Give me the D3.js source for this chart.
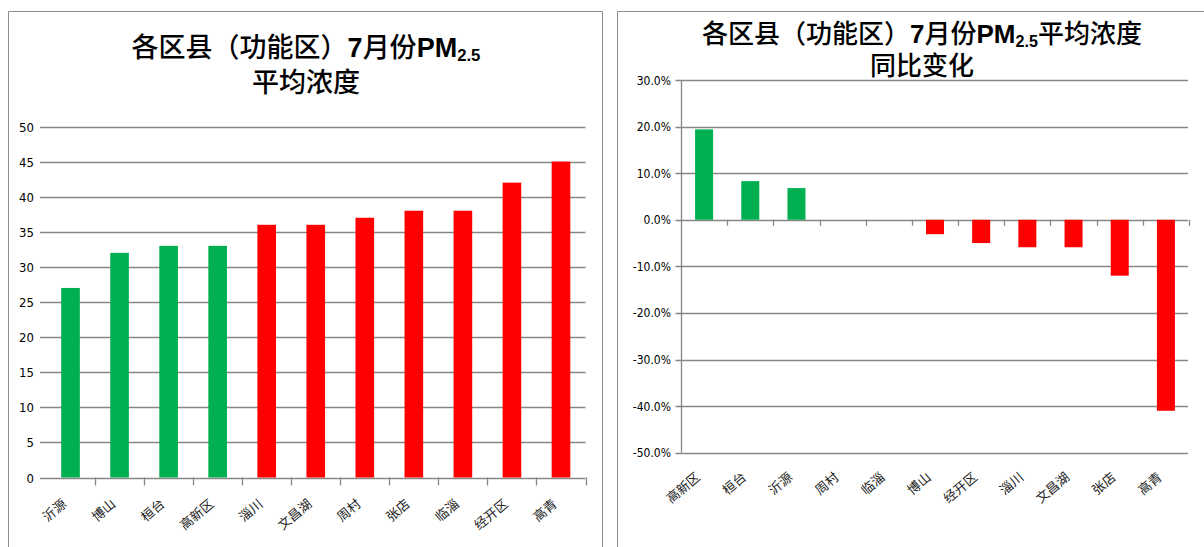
<!DOCTYPE html>
<html>
<head>
<meta charset="utf-8">
<script src="https://cdn.jsdelivr.net/npm/d3@7/dist/d3.min.js"></script>
<style>
  html, body { margin: 0; padding: 0; background: #fff; }
  svg { display: block; }
</style>
</head>
<body>
<svg id="chart" width="1204" height="547"></svg>
<script>
// ---- Data ----
const leftCategories = ["沂源", "博山", "桓台", "高新区", "淄川", "文昌湖", "周村", "张店", "临淄", "经开区", "高青"];
const leftValues = [27, 32, 33, 33, 36, 36, 37, 38, 38, 42, 45];
const leftColors = ["green", "green", "green", "green", "red", "red", "red", "red", "red", "red", "red"];
const leftTicks = [0, 5, 10, 15, 20, 25, 30, 35, 40, 45, 50];

const rightCategories = ["高新区", "桓台", "沂源", "周村", "临淄", "博山", "经开区", "淄川", "文昌湖", "张店", "高青"];
const rightValues = [19.4, 8.3, 6.8, 0, 0, -3.1, -5.0, -5.9, -5.9, -12.0, -41.0]; // percent
const rightTicks = [30, 20, 10, 0, -10, -20, -30, -40, -50];

const palette = { green: "#00B050", red: "#FF0000" };
const gridColor = "#868686";
const cjk = "'Noto Sans CJK SC', 'Noto Sans', sans-serif";
const latin = "'Liberation Sans', Arial, sans-serif";

const svg = d3.select("#chart");

// ---- Panel borders ----
svg.append("path")
  .attr("d", "M8.5,560 V11.5 H602.5 V560")
  .attr("fill", "none").attr("stroke", "#8c8c8c").attr("stroke-width", 1);
svg.append("path")
  .attr("d", "M617.5,560 V11.5 H1210")
  .attr("fill", "none").attr("stroke", "#8c8c8c").attr("stroke-width", 1);

// ---- Title helper ----
function title(x, y, size, parts) {
  const t = svg.append("text").attr("x", x).attr("y", y)
    .attr("text-anchor", "middle").attr("font-size", size).attr("fill", "#000");
  parts.forEach(p => {
    const s = t.append("tspan").text(p.t)
      .attr("font-family", p.latin ? latin : cjk)
      .attr("font-weight", p.latin ? "bold" : 500);
    if (p.sub) s.attr("font-size", size * 0.62).attr("dy", size * 0.16);
    if (p.unsub) s.attr("dy", -size * 0.16);
  });
  return t;
}

// ================= LEFT CHART =================
const lx = d3.scaleBand().domain(leftCategories).range([46, 585.5]).paddingInner(0.62).paddingOuter(0.31);
const ly = d3.scaleLinear().domain([0, 50]).range([477.5, 126.5]);

title(306, 57, 27, [
  { t: "各区县（功能区）" }, { t: "7", latin: true }, { t: "月份" },
  { t: "PM", latin: true }, { t: "2.5", latin: true, sub: true }
]);
title(306, 92, 27, [{ t: "平均浓度" }]);

const lg = svg.append("g");
// gridlines
lg.selectAll("line.grid").data(leftTicks).join("line")
  .attr("x1", 40).attr("x2", 585.5)
  .attr("y1", d => Math.round(ly(d)) + 0.5).attr("y2", d => Math.round(ly(d)) + 0.5)
  .attr("stroke", gridColor).attr("stroke-width", 1.3);
// y labels
lg.selectAll("text.yl").data(leftTicks).join("text")
  .attr("x", 34).attr("y", d => ly(d) + 5)
  .attr("text-anchor", "end").attr("font-size", 13)
  .attr("font-family", "'Liberation Sans Narrow', 'DejaVu Sans Condensed', sans-serif")
  .attr("fill", "#000").text(d => d);
// bars
lg.selectAll("rect").data(leftValues).join("rect")
  .attr("x", (d, i) => lx(leftCategories[i]))
  .attr("width", lx.bandwidth())
  .attr("y", d => ly(d)).attr("height", d => ly(0) - ly(d))
  .attr("fill", (d, i) => palette[leftColors[i]]);
// x axis ticks
const lStep = lx.step();
lg.selectAll("line.xt").data(d3.range(1, leftCategories.length + 1)).join("line")
  .attr("x1", i => Math.round(46 + i * lStep) + 0.5).attr("x2", i => Math.round(46 + i * lStep) + 0.5)
  .attr("y1", ly(0)).attr("y2", ly(0) + 8)
  .attr("stroke", gridColor).attr("stroke-width", 1.3);
// x labels
lg.selectAll("text.xl").data(leftCategories).join("text")
  .attr("transform", d => `translate(${lx(d) + lx.bandwidth() / 2 - 3},${ly(0) + 28}) rotate(-40)`)
  .attr("text-anchor", "end").attr("font-size", 13).attr("font-family", cjk)
  .attr("fill", "#222").text(d => d);

// ================= RIGHT CHART =================
const rx = d3.scaleBand().domain(rightCategories).range([681, 1189]).paddingInner(0.61).paddingOuter(0.305);
const ry = d3.scaleLinear().domain([-50, 30]).range([452.7, 80]);

title(922, 43, 26, [
  { t: "各区县（功能区）" }, { t: "7", latin: true }, { t: "月份" },
  { t: "PM", latin: true }, { t: "2.5", latin: true, sub: true }, { t: "平均浓度", unsub: true }
]);
title(922, 75, 26, [{ t: "同比变化" }]);

const rg = svg.append("g");
rg.selectAll("line.grid").data(rightTicks).join("line")
  .attr("x1", 675.5).attr("x2", 1188)
  .attr("y1", d => Math.round(ry(d)) + 0.5).attr("y2", d => Math.round(ry(d)) + 0.5)
  .attr("stroke", gridColor).attr("stroke-width", 1.3);
// y axis line
rg.append("line").attr("x1", 681.5).attr("x2", 681.5).attr("y1", ry(30)).attr("y2", ry(-50))
  .attr("stroke", gridColor).attr("stroke-width", 1.3);
const pct = d3.format(".1f");
rg.selectAll("text.yl").data(rightTicks).join("text")
  .attr("x", 671).attr("y", d => ry(d) + 4.5)
  .attr("text-anchor", "end").attr("font-size", 12)
  .attr("font-family", "'Liberation Sans Narrow', 'DejaVu Sans Condensed', sans-serif")
  .attr("fill", "#000").text(d => pct(d).replace("−", "-") + "%");
// bars
rg.selectAll("rect").data(rightValues).join("rect")
  .attr("x", (d, i) => rx(rightCategories[i]))
  .attr("width", rx.bandwidth())
  .attr("y", d => ry(Math.max(0, d)))
  .attr("height", d => Math.abs(ry(d) - ry(0)))
  .attr("fill", d => d >= 0 ? palette.green : palette.red);
// category ticks on zero line
const rStep = rx.step();
rg.selectAll("line.xt").data(d3.range(1, rightCategories.length + 1)).join("line")
  .attr("x1", i => Math.round(681 + i * rStep) + 0.5).attr("x2", i => Math.round(681 + i * rStep) + 0.5)
  .attr("y1", ry(0)).attr("y2", ry(0) + 6)
  .attr("stroke", gridColor).attr("stroke-width", 1.3);
// x labels (low position)
rg.selectAll("text.xl").data(rightCategories).join("text")
  .attr("transform", d => `translate(${rx(d) + rx.bandwidth() / 2 - 3},${ry(-50) + 26}) rotate(-40)`)
  .attr("text-anchor", "end").attr("font-size", 13).attr("font-family", cjk)
  .attr("fill", "#222").text(d => d);
</script>
</body>
</html>
